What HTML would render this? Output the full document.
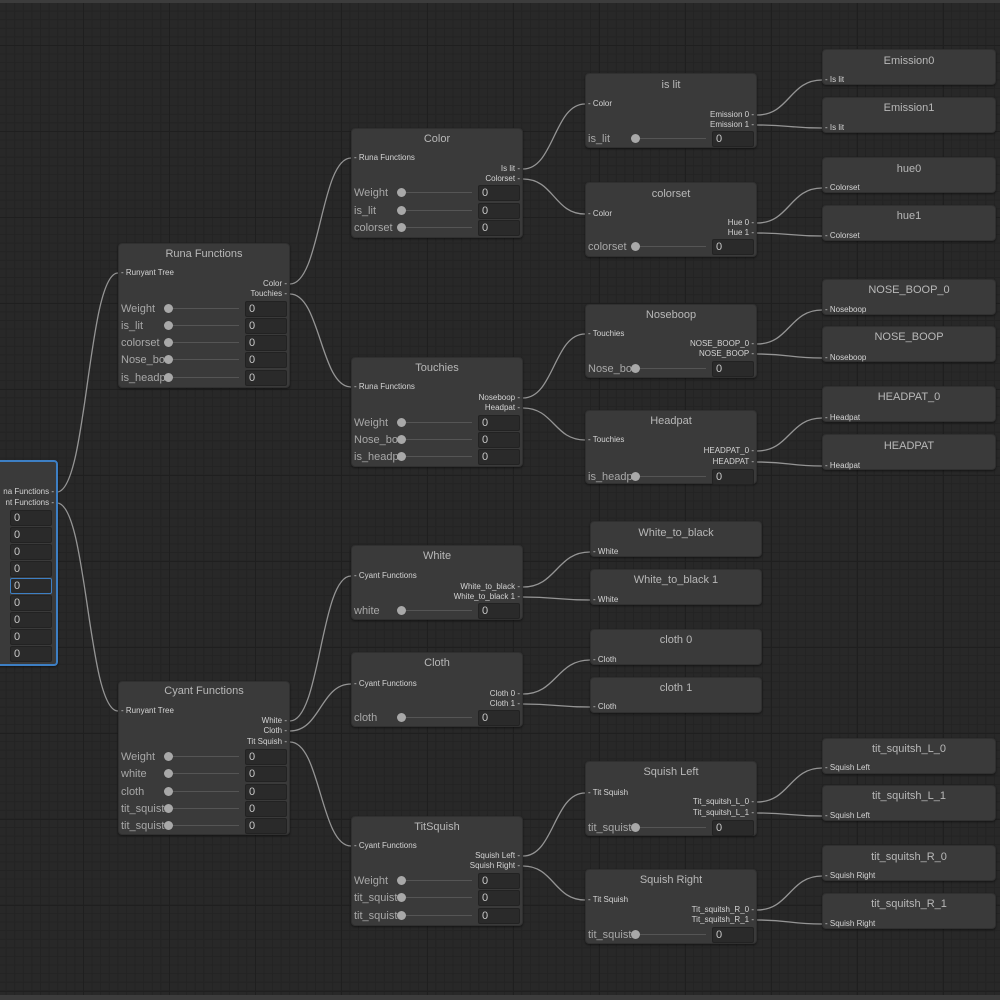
<!DOCTYPE html>
<html><head><meta charset="utf-8"><style>
*{margin:0;padding:0;box-sizing:border-box}
body{width:1000px;height:1000px;overflow:hidden;position:relative;font-family:"Liberation Sans",sans-serif;
background-color:#282828;
background-image:
linear-gradient(to right,#1f1f1f 1px,transparent 1px),
linear-gradient(to bottom,#1f1f1f 1px,transparent 1px),
linear-gradient(to right,#232323 1px,transparent 1px),
linear-gradient(to bottom,#232323 1px,transparent 1px);
background-size:86px 86px,86px 86px,8.6px 8.6px,8.6px 8.6px;
background-position:83px 0,0 45px,83px 0,0 45px;}
.n{position:absolute;background:#3a3a3a;border:1px solid #303030;border-radius:4px;box-shadow:0 1px 2px rgba(0,0,0,.5)}
.sel{border:2px solid #3d7fc4}
.t{position:absolute;left:0;right:0;text-align:center;color:#b8b8b8;font-size:11px}
.p{position:absolute;color:#d4d4d4;font-size:8px;white-space:nowrap;line-height:10px}
.r{position:absolute;color:#a8a8a8;font-size:11px;white-space:nowrap;line-height:14px}
.k{position:absolute;width:9px;height:9px;border-radius:50%;background:#a8a8a8}
.l{position:absolute;height:1px;background:#555}
.f{position:absolute;width:42px;height:16px;background:#2a2a2a;border:1px solid #222;border-radius:2px;color:#c8c8c8;font-size:11px;padding-left:3px;line-height:14px}
#top{position:absolute;left:0;top:0;width:1000px;height:3px;background:#3c3c3c}
#bot{position:absolute;left:0;top:995px;width:1000px;height:5px;background:#3c3c3c}
svg{position:absolute;left:0;top:0}
</style></head><body>
<div id="top"></div><div id="bot"></div>
<svg id="s" width="1000" height="1000"></svg>
<div id="root"></div>
<script>
var R=document.getElementById('root'),S=document.getElementById('s'),html='',paths='';
function node(x,y,w,h,title,ty,inp,iy,outs,rows,cls){
 html+='<div class="n '+(cls||'')+'" style="left:'+x+'px;top:'+y+'px;width:'+w+'px;height:'+h+'px"></div>';
 if(title!==null)html+='<div class="t" style="left:'+x+'px;width:'+w+'px;right:auto;top:'+(ty-6)+'px">'+title+'</div>';
 if(inp)html+='<div class="p" style="left:'+(x+3)+'px;top:'+(iy-5)+'px">- '+inp+'</div>';
 (outs||[]).forEach(function(o){html+='<div class="p" style="right:'+(1000-(x+w)+3)+'px;top:'+(o[1]-5)+'px">'+o[0]+' -</div>';});
 (rows||[]).forEach(function(r){
  var ry=r[1];
  if(r[0]!==null){
   html+='<div class="r" style="left:'+(x+3)+'px;top:'+(ry-6)+'px">'+r[0]+'</div>';
   html+='<div class="l" style="left:'+(x+52)+'px;top:'+ry+'px;width:'+(w-103)+'px"></div>';
   html+='<div class="k" style="left:'+(x+46)+'px;top:'+(ry-4)+'px"></div>';
  }
  html+='<div class="f" style="left:'+(x+w-45)+'px;top:'+(ry-7)+'px;'+(r[2]?'border-color:#3d7fc4':'')+'">0</div>';
 });
}
function link(x1,y1,x2,y2){var m=(x2-x1)/2;paths+='<path d="M'+x1+' '+y1+' C'+(x1+m)+' '+y1+' '+(x2-m)+' '+y2+' '+x2+' '+y2+'" stroke="#959595" stroke-width="1.3" fill="none"/>';}
html+='<div class="n sel" style="left:-10px;top:460px;width:68px;height:206px"></div>';
html+='<div class="p" style="right:946px;top:487px">na Functions -</div>';
html+='<div class="p" style="right:946px;top:498px">nt Functions -</div>';
[518,535,552,569,586,603,620,637,654].forEach(function(y,i){html+='<div class="f" style="left:10px;top:'+(y-8)+'px;'+(i==4?'border-color:#3d7fc4':'')+'">0</div>';});
var W=172;
node(118,243,W,145,'Runa Functions',254,'Runyant Tree',273,[['Color',284],['Touchies',294]],[['Weight',308],['is_lit',325],['colorset',342],['Nose_bo',359],['is_headp',377]]);
node(118,681,W,154,'Cyant Functions',691,'Runyant Tree',711,[['White',721],['Cloth',731],['Tit Squish',742]],[['Weight',756],['white',773],['cloth',791],['tit_squist',808],['tit_squist',825]]);
node(351,128,W,110,'Color',139,'Runa Functions',158,[['Is lit',169],['Colorset',179]],[['Weight',192],['is_lit',210],['colorset',227]]);
node(351,357,W,110,'Touchies',368,'Runa Functions',387,[['Noseboop',398],['Headpat',408]],[['Weight',422],['Nose_bo',439],['is_headp',456]]);
node(351,545,W,75,'White',556,'Cyant Functions',576,[['White_to_black',587],['White_to_black 1',597]],[['white',610]]);
node(351,652,W,75,'Cloth',663,'Cyant Functions',684,[['Cloth 0',694],['Cloth 1',704]],[['cloth',717]]);
node(351,816,W,110,'TitSquish',827,'Cyant Functions',846,[['Squish Left',856],['Squish Right',866]],[['Weight',880],['tit_squist',897],['tit_squist',915]]);
node(585,73,W,75,'is lit',85,'Color',104,[['Emission 0',115],['Emission 1',125]],[['is_lit',138]]);
node(585,182,W,75,'colorset',194,'Color',214,[['Hue 0',223],['Hue 1',233]],[['colorset',246]]);
node(585,304,W,74,'Noseboop',315,'Touchies',334,[['NOSE_BOOP_0',344],['NOSE_BOOP',354]],[['Nose_bo',368]]);
node(585,410,W,74,'Headpat',421,'Touchies',440,[['HEADPAT_0',451],['HEADPAT',462]],[['is_headp',476]]);
node(585,761,W,75,'Squish Left',772,'Tit Squish',793,[['Tit_squitsh_L_0',802],['Tit_squitsh_L_1',813]],[['tit_squist',827]]);
node(585,869,W,75,'Squish Right',880,'Tit Squish',900,[['Tit_squitsh_R_0',910],['Tit_squitsh_R_1',920]],[['tit_squist',934]]);
[['White_to_black',521,533,552,'White'],['White_to_black 1',569,580,600,'White'],['cloth 0',629,640,660,'Cloth'],['cloth 1',677,688,707,'Cloth']].forEach(function(a){node(590,a[1],172,36,a[0],a[2],a[4],a[3]);});
[['Emission0',49,61,80,'Is lit'],['Emission1',97,108,128,'Is lit'],['hue0',157,169,188,'Colorset'],['hue1',205,216,236,'Colorset'],['NOSE_BOOP_0',279,290,310,'Noseboop'],['NOSE_BOOP',326,337,358,'Noseboop'],['HEADPAT_0',386,397,418,'Headpat'],['HEADPAT',434,446,466,'Headpat'],['tit_squitsh_L_0',738,749,768,'Squish Left'],['tit_squitsh_L_1',785,796,816,'Squish Left'],['tit_squitsh_R_0',845,857,876,'Squish Right'],['tit_squitsh_R_1',893,904,924,'Squish Right']].forEach(function(a){node(822,a[1],174,36,a[0],a[2],a[4],a[3]);});
link(57,492,118,273);link(57,503,118,711);
link(290,284,351,158);link(290,294,351,387);
link(523,169,585,104);link(523,179,585,214);link(523,398,585,334);link(523,408,585,440);
link(757,115,822,80);link(757,125,822,128);link(757,223,822,188);link(757,233,822,236);
link(757,344,822,310);link(757,354,822,358);link(757,451,822,418);link(757,462,822,466);
link(290,721,351,576);link(290,731,351,684);link(290,742,351,846);
link(523,587,590,552);link(523,597,590,600);link(523,694,590,660);link(523,704,590,707);
link(523,856,585,793);link(523,866,585,900);
link(757,802,822,768);link(757,813,822,816);link(757,910,822,876);link(757,920,822,924);
S.innerHTML=paths;R.innerHTML=html;
</script>
</body></html>
